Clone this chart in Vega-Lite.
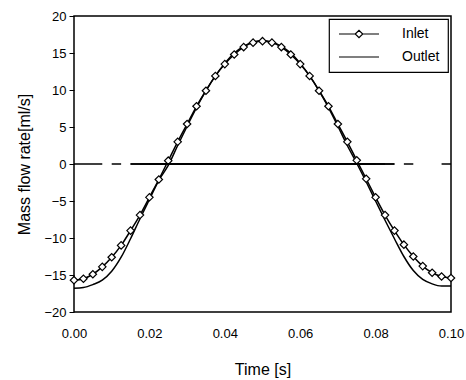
{
  "$schema": "https://vega.github.io/schema/vega-lite/v6.json",
  "width": 377,
  "height": 296,
  "autosize": {"type": "none"},
  "padding": {"left": 74, "top": 16, "right": 15, "bottom": 68},
  "background": "white",
  "config": {
    "font": "Liberation Sans",
    "view": {"stroke": "black", "strokeWidth": 1.5},
    "axis": {"domainColor": "black", "tickColor": "black", "labelColor": "black", "titleColor": "black", "grid": false, "labelFontSize": 13, "titleFontSize": 16, "titleFontWeight": "normal", "labelFont": "Liberation Sans", "titleFont": "Liberation Sans", "labelOverlap": false},
    "legend": {"labelFont": "Liberation Sans", "labelFontSize": 14, "labelColor": "black"}
  },
  "data": {
    "values": [
      {"t": 0.0, "v": -15.7, "series": "Inlet"},
      {"t": 0.0025, "v": -15.5, "series": "Inlet"},
      {"t": 0.005, "v": -14.9, "series": "Inlet"},
      {"t": 0.0075, "v": -13.9, "series": "Inlet"},
      {"t": 0.01, "v": -12.6, "series": "Inlet"},
      {"t": 0.0125, "v": -11.0, "series": "Inlet"},
      {"t": 0.015, "v": -9.0, "series": "Inlet"},
      {"t": 0.0175, "v": -6.9, "series": "Inlet"},
      {"t": 0.02, "v": -4.5, "series": "Inlet"},
      {"t": 0.0225, "v": -2.1, "series": "Inlet"},
      {"t": 0.025, "v": 0.45, "series": "Inlet"},
      {"t": 0.0275, "v": 3.0, "series": "Inlet"},
      {"t": 0.03, "v": 5.4, "series": "Inlet"},
      {"t": 0.0325, "v": 7.8, "series": "Inlet"},
      {"t": 0.035, "v": 9.9, "series": "Inlet"},
      {"t": 0.0375, "v": 11.9, "series": "Inlet"},
      {"t": 0.04, "v": 13.5, "series": "Inlet"},
      {"t": 0.0425, "v": 14.8, "series": "Inlet"},
      {"t": 0.045, "v": 15.8, "series": "Inlet"},
      {"t": 0.0475, "v": 16.4, "series": "Inlet"},
      {"t": 0.05, "v": 16.6, "series": "Inlet"},
      {"t": 0.0525, "v": 16.4, "series": "Inlet"},
      {"t": 0.055, "v": 15.8, "series": "Inlet"},
      {"t": 0.0575, "v": 14.8, "series": "Inlet"},
      {"t": 0.06, "v": 13.5, "series": "Inlet"},
      {"t": 0.0625, "v": 11.9, "series": "Inlet"},
      {"t": 0.065, "v": 9.9, "series": "Inlet"},
      {"t": 0.0675, "v": 7.8, "series": "Inlet"},
      {"t": 0.07, "v": 5.4, "series": "Inlet"},
      {"t": 0.0725, "v": 3.0, "series": "Inlet"},
      {"t": 0.075, "v": 0.5, "series": "Inlet"},
      {"t": 0.0775, "v": -2.0, "series": "Inlet"},
      {"t": 0.08, "v": -4.5, "series": "Inlet"},
      {"t": 0.0825, "v": -6.9, "series": "Inlet"},
      {"t": 0.085, "v": -9.0, "series": "Inlet"},
      {"t": 0.0875, "v": -10.9, "series": "Inlet"},
      {"t": 0.09, "v": -12.5, "series": "Inlet"},
      {"t": 0.0925, "v": -13.8, "series": "Inlet"},
      {"t": 0.095, "v": -14.7, "series": "Inlet"},
      {"t": 0.0975, "v": -15.2, "series": "Inlet"},
      {"t": 0.1, "v": -15.4, "series": "Inlet"},
      {"t": 0.0, "v": -16.8, "series": "Outlet"},
      {"t": 0.0025, "v": -16.7, "series": "Outlet"},
      {"t": 0.005, "v": -16.3, "series": "Outlet"},
      {"t": 0.0075, "v": -15.7, "series": "Outlet"},
      {"t": 0.01, "v": -14.5, "series": "Outlet"},
      {"t": 0.0125, "v": -12.6, "series": "Outlet"},
      {"t": 0.015, "v": -10.1, "series": "Outlet"},
      {"t": 0.0175, "v": -7.4, "series": "Outlet"},
      {"t": 0.02, "v": -4.8, "series": "Outlet"},
      {"t": 0.0225, "v": -2.2, "series": "Outlet"},
      {"t": 0.025, "v": -0.2, "series": "Outlet"},
      {"t": 0.0275, "v": 2.5, "series": "Outlet"},
      {"t": 0.03, "v": 5.1, "series": "Outlet"},
      {"t": 0.0325, "v": 7.6, "series": "Outlet"},
      {"t": 0.035, "v": 9.9, "series": "Outlet"},
      {"t": 0.0375, "v": 11.9, "series": "Outlet"},
      {"t": 0.04, "v": 13.6, "series": "Outlet"},
      {"t": 0.0425, "v": 15.0, "series": "Outlet"},
      {"t": 0.045, "v": 15.9, "series": "Outlet"},
      {"t": 0.0475, "v": 16.5, "series": "Outlet"},
      {"t": 0.05, "v": 16.7, "series": "Outlet"},
      {"t": 0.0525, "v": 16.5, "series": "Outlet"},
      {"t": 0.055, "v": 15.9, "series": "Outlet"},
      {"t": 0.0575, "v": 15.0, "series": "Outlet"},
      {"t": 0.06, "v": 13.6, "series": "Outlet"},
      {"t": 0.0625, "v": 11.9, "series": "Outlet"},
      {"t": 0.065, "v": 9.9, "series": "Outlet"},
      {"t": 0.0675, "v": 7.6, "series": "Outlet"},
      {"t": 0.07, "v": 5.1, "series": "Outlet"},
      {"t": 0.0725, "v": 2.5, "series": "Outlet"},
      {"t": 0.075, "v": 0.1, "series": "Outlet"},
      {"t": 0.0775, "v": -2.4, "series": "Outlet"},
      {"t": 0.08, "v": -5.0, "series": "Outlet"},
      {"t": 0.0825, "v": -7.6, "series": "Outlet"},
      {"t": 0.085, "v": -10.1, "series": "Outlet"},
      {"t": 0.0875, "v": -12.5, "series": "Outlet"},
      {"t": 0.09, "v": -14.4, "series": "Outlet"},
      {"t": 0.0925, "v": -15.6, "series": "Outlet"},
      {"t": 0.095, "v": -16.2, "series": "Outlet"},
      {"t": 0.0975, "v": -16.5, "series": "Outlet"},
      {"t": 0.1, "v": -16.5, "series": "Outlet"}
    ]
  },
  "encoding": {
    "x": {"field": "t", "type": "quantitative", "scale": {"domain": [0, 0.1], "nice": false},
          "axis": {"title": "Time [s]", "format": ".2f", "values": [0, 0.02, 0.04, 0.06, 0.08, 0.1], "ticks": false, "labelPadding": 15, "titlePadding": 21, "domain": false, "labelFlush": false}},
    "y": {"field": "v", "type": "quantitative", "scale": {"domain": [-20, 20], "nice": false},
          "axis": {"title": "Mass flow rate[ml/s]", "values": [-20, -15, -10, -5, 0, 5, 10, 15, 20],
                   "labelOverlap": false, "tickSize": 5, "labelPadding": 3, "titlePadding": 11, "domain": false}}
  },
  "layer": [
    {
      "mark": {"type": "line", "strokeWidth": 1.5, "interpolate": "monotone"},
      "encoding": {
        "color": {"field": "series", "type": "nominal", "scale": {"range": ["black", "black"]},
                  "legend": {"title": null, "orient": "top-right", "offset": 3, "strokeColor": "black", "fillColor": "white",
                             "padding": 8, "rowPadding": 9, "symbolSize": 100, "labelOffset": 51, "symbolStrokeWidth": 1.2,
                             "encode": {"legend": {"update": {"strokeWidth": {"value": 1.2}}},
                                        "symbols": {"update": {"shape": {"signal": "datum.value === 'Inlet' ? 'M-1,0L2.25,0M3.75,0L7,0M2.25,0L3,-0.75L3.75,0L3,0.75Z' : 'M-1,0L7,0'"}, "fill": {"value": "white"}, "stroke": {"value": "black"}}}}}},
        "detail": {"field": "series"}
      }
    },
    {
      "transform": [{"filter": "datum.series === 'Inlet'"}],
      "mark": {"type": "point", "shape": "diamond", "filled": true, "fill": "white", "stroke": "black", "strokeWidth": 1.2, "size": 55, "opacity": 1},
      "encoding": {}
    },
    {
      "mark": {"type": "rule", "color": "black", "strokeWidth": 1.5},
      "encoding": {
        "x": {"field": "t", "type": "quantitative", "aggregate": "min"},
        "x2": {"field": "t", "aggregate": "max"},
        "y": {"datum": 0, "type": "quantitative",
              "axis": {"title": "Mass flow rate[ml/s]", "values": [-20, -15, -10, -5, 0, 5, 10, 15, 20],
                       "labelOverlap": false, "tickSize": 5, "labelPadding": 3, "titlePadding": 11, "domain": false}}
      }
    }
  ]
}
